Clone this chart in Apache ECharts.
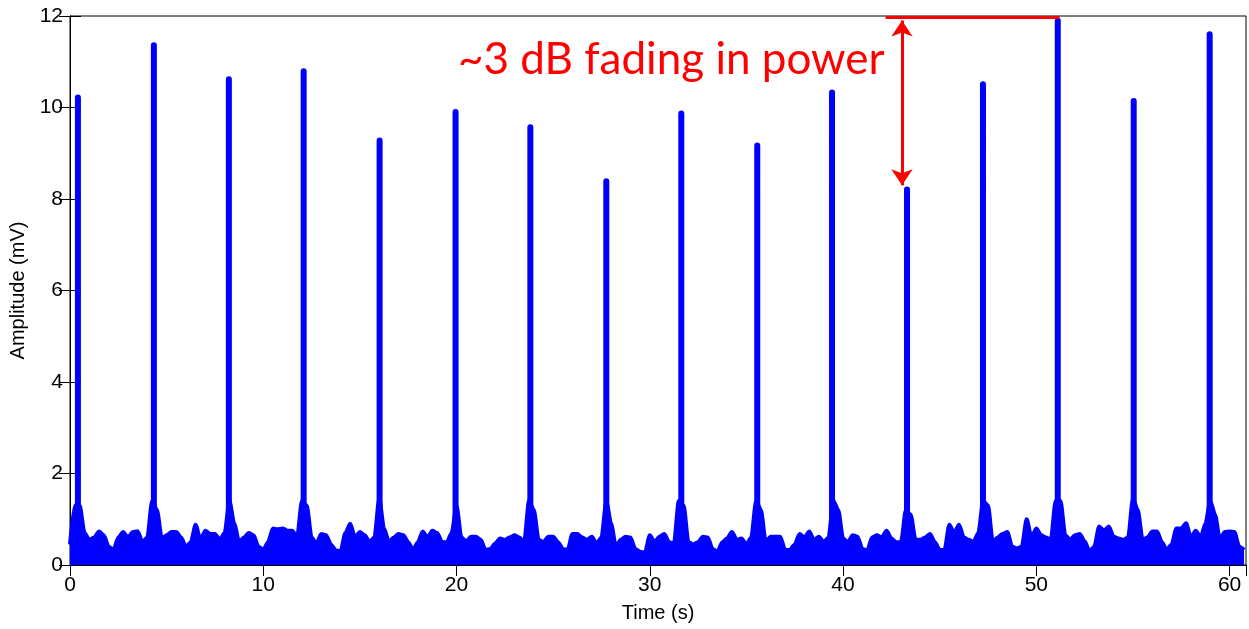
<!DOCTYPE html>
<html>
<head>
<meta charset="utf-8">
<script src="https://cdn.jsdelivr.net/npm/echarts@6/dist/echarts.min.js"></script>
<style>
html,body{margin:0;padding:0;background:#fff;}
#chart{width:1249px;height:629px;}
</style>
</head>
<body>
<div id="chart"></div>
<script>
// Envelope of the received signal, sampled every 0.25 s from t = 0 s
const noiseStep = 0.25;
const noise = [
  0.45,1.3,1.3,0.7,0.55,0.6,0.73,0.65,0.4,0.33,
  0.6,0.72,0.6,0.72,0.74,0.5,0.6,1.4,1.2,0.58,
  0.65,0.72,0.72,0.6,0.4,0.5,0.88,0.55,0.75,0.68,
  0.68,0.55,0.7,1.4,0.9,0.5,0.6,0.7,0.65,0.4,
  0.33,0.5,0.8,0.78,0.8,0.75,0.75,0.6,1.4,1.3,
  0.6,0.47,0.68,0.65,0.45,0.32,0.3,0.7,0.9,0.6,
  0.72,0.65,0.5,0.6,1.45,0.8,0.5,0.6,0.68,0.65,
  0.5,0.33,0.5,0.73,0.6,0.75,0.7,0.5,0.5,0.7,
  1.3,0.6,0.52,0.62,0.62,0.55,0.33,0.35,0.47,0.58,
  0.55,0.6,0.65,0.6,0.5,1.4,1.2,0.55,0.5,0.62,
  0.62,0.5,0.35,0.33,0.68,0.68,0.6,0.55,0.62,0.47,
  0.6,1.4,0.9,0.4,0.55,0.62,0.6,0.35,0.29,0.27,
  0.65,0.5,0.62,0.68,0.5,0.47,1.4,1.3,0.5,0.45,
  0.5,0.62,0.6,0.35,0.29,0.5,0.58,0.72,0.55,0.58,
  0.45,0.6,1.4,1.2,0.5,0.62,0.62,0.62,0.33,0.33,
  0.45,0.68,0.6,0.73,0.55,0.62,0.5,0.6,1.4,1.2,
  0.58,0.5,0.65,0.62,0.35,0.31,0.6,0.65,0.6,0.75,
  0.58,0.5,0.5,1.2,1.1,0.55,0.55,0.6,0.68,0.5,
  0.33,0.33,0.88,0.7,0.88,0.6,0.55,0.5,0.7,1.4,
  1.3,0.5,0.6,0.68,0.72,0.4,0.36,0.4,1.0,0.6,
  0.8,0.65,0.6,0.55,1.4,1.4,0.65,0.55,0.65,0.68,
  0.52,0.3,0.4,0.84,0.75,0.84,0.62,0.58,0.55,0.6,
  1.45,1.2,0.55,0.6,0.73,0.73,0.5,0.33,0.45,0.8,
  0.8,0.91,0.6,0.75,0.6,0.9,1.4,1.1,0.55,0.72,
  0.73,0.72,0.4,0.33
];
// Pulse peaks
const peakTimes = [0.41,4.34,8.22,12.09,16.02,19.95,23.82,27.75,31.63,35.56,39.43,43.31,47.24,51.11,55.04,58.97];
const peakHeights = [10.22,11.36,10.62,10.79,9.28,9.9,9.57,8.39,9.87,9.17,10.33,8.21,10.51,11.9,10.14,11.6];
// Annotation (data coordinates)
const refLine = [[42.2, 11.98], [51.2, 11.98]];
const fadeArrow = [[43.05, 11.9], [43.05, 8.3]];
const annotationText = '~3 dB fading in power';
const xTicks = {min: 0, max: 60.85, interval: 10};
const yTicks = {min: 0, max: 12, interval: 2};

const envelopeData = noise.map((v, i) => [i * noiseStep, v]);
const spikeData = [];
peakTimes.forEach((t, i) => {
  spikeData.push([t, 0.5], [t, peakHeights[i]], [t, '-']);
});

const font = 'Liberation Sans, Arial, Helvetica, sans-serif';
const axisCommon = {
  type: 'value',
  axisLine: {show: true, lineStyle: {color: '#000', width: 1}},
  axisTick: {show: true, inside: true, length: 11, lineStyle: {color: '#000'}},
  splitLine: {show: false}
};

const chart = echarts.init(document.getElementById('chart'), null, {renderer: 'canvas'});
chart.setOption({
  animation: false,
  backgroundColor: '#fff',
  title: {
    text: annotationText,
    left: 453, top: 33,
    textStyle: {color: '#ff0000', fontSize: 44, fontWeight: 'normal', fontFamily: 'Lato, "Open Sans", sans-serif'}
  },
  grid: {left: 69, right: 3, top: 16, bottom: 64, show: true, borderColor: '#000', borderWidth: 1, backgroundColor: 'transparent'},
  xAxis: [
    Object.assign({}, axisCommon, xTicks, {
      position: 'bottom',
      name: 'Time (s)', nameLocation: 'middle', nameGap: 38,
      nameTextStyle: {fontSize: 20, color: '#000', fontFamily: font},
      axisLabel: {fontSize: 21, color: '#000', fontFamily: font, margin: 10, showMaxLabel: false}
    }),
    Object.assign({}, axisCommon, xTicks, {position: 'top', axisLabel: {show: false}})
  ],
  yAxis: [
    Object.assign({}, axisCommon, yTicks, {
      position: 'left',
      name: 'Amplitude (mV)', nameLocation: 'middle', nameGap: 42,
      nameTextStyle: {fontSize: 20, color: '#000', fontFamily: font},
      axisLabel: {fontSize: 21, color: '#000', fontFamily: font, margin: 7}
    }),
    Object.assign({}, axisCommon, yTicks, {position: 'right', axisLabel: {show: false}})
  ],
  series: [
    {
      type: 'line', name: 'envelope', data: envelopeData,
      showSymbol: false, smooth: 0.25, smoothMonotone: 'x',
      lineStyle: {color: '#0000ff', width: 4, join: 'round'},
      areaStyle: {color: '#0000ff', opacity: 1},
      silent: true, z: 3
    },
    {
      type: 'line', name: 'peaks', data: spikeData,
      showSymbol: false, connectNulls: false,
      lineStyle: {color: '#0000ff', width: 6, cap: 'round'},
      silent: true, z: 4,
      markLine: {
        silent: true, animation: false,
        label: {show: false},
        emphasis: {disabled: true},
        data: [
          [{coord: refLine[0], symbol: 'none'}, {coord: refLine[1], symbol: 'none'}],
          [{coord: fadeArrow[0], symbol: 'arrow', symbolSize: 16}, {coord: fadeArrow[1], symbol: 'arrow', symbolSize: 16}]
        ],
        lineStyle: {color: '#ff0000', width: 3, type: 'solid'}
      }
    }
  ]
});
</script>
</body>
</html>
